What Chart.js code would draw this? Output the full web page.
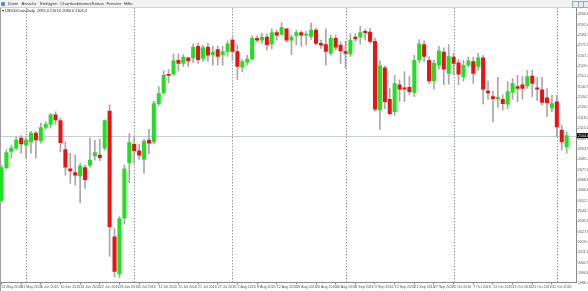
<!DOCTYPE html>
<html>
<head>
<meta charset="utf-8">
<script src="https://cdn.jsdelivr.net/npm/chart.js@4.4.1/dist/chart.umd.min.js"></script>
<style>
html, body { margin: 0; padding: 0; background: #fff; overflow: hidden; }
#wrap { position: relative; width: 588px; height: 291px; font-family: "Liberation Sans", Arial, sans-serif; }
canvas { position: absolute; left: 0; top: 0; }
#menu { position: absolute; left: 0; top: 0; width: 588px; height: 7px; background: #f2f2f2; border-bottom: 1px solid #d2d2d2; font-size: 4.4px; line-height: 7px; color: #333; }
#menu span { position: absolute; top: 0; }
#icon { position: absolute; left: 1px; top: 1.5px; width: 4px; height: 4px; background: #5a8fd0; border-radius: 1px; }
.btn { position: absolute; top: 1px; width: 4.5px; height: 4.5px; border: 0.5px solid #9aa; background: #e9ecef; }
#title { position: absolute; left: 2px; top: 8.5px; font-size: 3.8px; line-height: 4px; color: #222; white-space: pre; }
</style>
</head>
<body>
<div id="wrap">
  <canvas id="chart" width="588" height="291"></canvas>
  <div id="menu">
    <div id="icon"></div>
    <span style="left:8px">Datei</span>
    <span style="left:21.5px">Ansicht</span>
    <span style="left:40px">Einfügen</span>
    <span style="left:60px">Chartfunktionen</span>
    <span style="left:91.5px">Extras</span>
    <span style="left:106.5px">Fenster</span>
    <span style="left:124px">Hilfe</span>
    <div class="btn" style="left:572px"></div>
    <div class="btn" style="left:577.5px"></div>
    <div class="btn" style="left:583px"></div>
  </div>
  <div id="title"></div>
</div>
<script>
// daily bars, US500 CFD, 24 May - 3 Nov 2016
var dates = [
  "24 May 2016","25 May 2016","26 May 2016","27 May 2016","31 May 2016",
  "1 Jun 2016","2 Jun 2016","3 Jun 2016","6 Jun 2016","7 Jun 2016","8 Jun 2016","9 Jun 2016","10 Jun 2016",
  "13 Jun 2016","14 Jun 2016","15 Jun 2016","16 Jun 2016","17 Jun 2016","20 Jun 2016","21 Jun 2016","22 Jun 2016",
  "23 Jun 2016","24 Jun 2016","27 Jun 2016","28 Jun 2016","29 Jun 2016","30 Jun 2016",
  "1 Jul 2016","5 Jul 2016","6 Jul 2016","7 Jul 2016","8 Jul 2016","11 Jul 2016","12 Jul 2016","13 Jul 2016",
  "14 Jul 2016","15 Jul 2016","18 Jul 2016","19 Jul 2016","20 Jul 2016","21 Jul 2016","22 Jul 2016","25 Jul 2016",
  "26 Jul 2016","27 Jul 2016","28 Jul 2016","29 Jul 2016",
  "1 Aug 2016","2 Aug 2016","3 Aug 2016","4 Aug 2016","5 Aug 2016","8 Aug 2016","9 Aug 2016","10 Aug 2016",
  "11 Aug 2016","12 Aug 2016","15 Aug 2016","16 Aug 2016","17 Aug 2016","18 Aug 2016","19 Aug 2016","22 Aug 2016",
  "23 Aug 2016","24 Aug 2016","25 Aug 2016","26 Aug 2016","29 Aug 2016","30 Aug 2016","31 Aug 2016",
  "1 Sep 2016","2 Sep 2016","5 Sep 2016","6 Sep 2016","7 Sep 2016","8 Sep 2016","9 Sep 2016","12 Sep 2016",
  "13 Sep 2016","14 Sep 2016","15 Sep 2016","16 Sep 2016","19 Sep 2016","20 Sep 2016","21 Sep 2016","22 Sep 2016",
  "23 Sep 2016","26 Sep 2016","27 Sep 2016","28 Sep 2016","29 Sep 2016","30 Sep 2016",
  "3 Oct 2016","4 Oct 2016","5 Oct 2016","6 Oct 2016","7 Oct 2016","10 Oct 2016","11 Oct 2016","12 Oct 2016",
  "13 Oct 2016","14 Oct 2016","17 Oct 2016","18 Oct 2016","19 Oct 2016","20 Oct 2016","21 Oct 2016","24 Oct 2016",
  "25 Oct 2016","26 Oct 2016","27 Oct 2016","28 Oct 2016","31 Oct 2016",
  "1 Nov 2016","2 Nov 2016","3 Nov 2016"
];

var open = [
  2052.5,2078.5,2091.5,2094.0,2102.0, 2096.5,2099.0,2106.0,2100.0,2110.5,2113.0,2120.5,2116.0,
  2093.0,2077.5,2074.5,2072.0,2078.5,2080.5,2088.0,2088.5, 2094.0,2123.5,2023.5,1994.0,2038.5,2082.5,
  2097.0,2092.0,2085.0,2100.5,2099.0,2129.5,2138.0,2152.5, 2153.0,2164.0,2161.5,2166.0,2166.0,2175.0,2165.5,2174.5,
  2168.5,2172.5,2168.5,2171.0,
  2180.0,2171.0,2158.5,2162.5,2165.0,2181.5,2180.0,2182.5, 2177.0,2186.0,2184.5,2189.0,2180.0,2183.5,2186.0,2184.0,
  2183.0,2188.0,2177.5,2176.5,2169.5,2181.5,2176.0,
  2171.0,2169.0,2182.5,2182.5,2187.0,2186.5,2179.0,2124.5, 2158.0,2133.0,2123.0,2144.5,2142.0,2142.5,2138.5,2164.5,
  2176.5,2164.0,2147.5,2160.0,2170.5,2153.5,
  2166.5,2162.0,2151.0,2160.0,2163.0,2159.0,2166.0,2139.5, 2135.0,2133.5,2133.0,2129.0,2138.5,2143.0,2144.5,2143.5,
  2151.5,2142.0,2140.5,2134.0,2126.0,
  2131.0,2108.5,2095.0
];
var high = [
  2080.5,2093.0,2096.5,2103.0,2104.0, 2103.0,2107.5,2107.5,2114.0,2115.0,2121.5,2123.0,2118.0,
  2099.0,2090.0,2088.5,2082.0,2080.5,2102.0,2100.5,2101.0, 2116.5,2128.5,2030.0,2039.5,2080.5,2105.5,
  2103.0,2097.0,2101.0,2109.0,2131.5,2143.0,2155.5,2156.5, 2169.0,2169.0,2168.5,2166.5,2177.0,2177.5,2176.0,2177.5,
  2175.0,2175.5,2175.0,2179.5,
  2182.5,2176.0,2164.5,2168.0,2183.5,2183.5,2185.5,2185.0, 2189.0,2188.0,2194.0,2189.5,2184.0,2188.0,2187.5,2187.0,
  2193.5,2189.5,2180.0,2189.0,2184.0,2184.0,2178.5,
  2179.0,2185.0,2185.0,2191.0,2188.5,2189.5,2181.5,2163.5, 2159.5,2141.5,2152.0,2148.5,2155.0,2151.5,2168.0,2180.5,
  2179.5,2167.0,2164.0,2175.0,2174.0,2176.5,
  2169.5,2164.5,2164.0,2166.5,2166.5,2169.5,2168.0,2147.5, 2139.5,2150.5,2136.5,2147.0,2149.5,2152.0,2151.0,2156.0,
  2156.0,2150.5,2150.5,2141.5,2136.0,
  2136.0,2112.5,2107.0
];
var low = [
  2051.5,2077.5,2086.0,2092.5,2090.0, 2086.0,2090.0,2086.0,2098.0,2109.0,2110.0,2113.0,2091.0,
  2072.5,2066.0,2064.5,2050.5,2062.0,2079.0,2084.5,2084.0, 2092.5,2008.0,1991.5,1991.0,2033.5,2066.5,
  2082.0,2085.0,2074.0,2089.5,2097.5,2128.0,2137.5,2146.0, 2152.0,2155.5,2159.0,2159.0,2162.0,2161.5,2163.0,2163.0,
  2160.0,2160.0,2160.0,2167.0,
  2164.0,2148.5,2155.0,2160.0,2164.0,2178.5,2177.5,2172.0, 2173.0,2180.0,2184.0,2178.5,2168.5,2176.5,2175.0,2176.0,
  2180.5,2176.0,2173.5,2160.0,2168.0,2172.0,2161.5,
  2157.5,2167.0,2179.0,2177.0,2180.0,2177.5,2123.5,2109.0, 2125.5,2120.5,2120.0,2131.0,2131.0,2136.5,2135.0,2162.0,
  2163.0,2145.5,2141.0,2157.0,2144.5,2145.0,
  2152.5,2144.5,2147.5,2158.5,2145.5,2156.0,2129.0,2133.0, 2115.0,2126.5,2124.5,2125.5,2133.0,2131.0,2133.0,2141.5,
  2135.0,2132.0,2128.5,2119.0,2123.0,
  2103.0,2092.5,2090.0
];
var close = [
  2078.5,2090.5,2094.0,2100.5,2097.5, 2100.5,2106.0,2100.5,2110.5,2113.0,2120.5,2116.5,2098.5,
  2079.0,2076.0,2072.5,2080.0,2069.0,2084.5,2090.5,2086.5, 2116.0,2031.5,1996.0,2038.0,2077.5,2098.5,
  2092.0,2088.5,2099.5,2098.0,2129.5,2137.5,2152.0,2152.0, 2163.5,2161.5,2166.5,2163.5,2174.5,2164.5,2174.0,2168.0,
  2170.5,2167.0,2171.0,2177.0,
  2171.0,2159.0,2163.0,2165.0,2181.5,2180.0,2182.5,2176.5, 2186.0,2184.0,2190.0,2180.0,2182.5,2186.0,2184.0,2184.5,
  2188.0,2177.5,2176.0,2171.0,2181.5,2174.5,2171.5,
  2169.5,2180.0,2181.0,2186.0,2186.0,2179.0,2125.0,2159.5, 2131.0,2121.5,2145.5,2141.0,2141.0,2139.0,2164.0,2177.0,
  2167.0,2147.5,2161.5,2171.5,2157.0,2167.0,
  2161.5,2153.0,2160.0,2163.5,2153.5,2166.0,2141.0,2138.0, 2133.5,2134.5,2129.5,2139.0,2145.5,2141.5,2141.5,2151.0,
  2145.5,2141.0,2130.5,2130.0,2129.5,
  2111.0,2099.0,2104.0
];

// price axis labels (right side)
var priceTicks = [1986.4,1994.6,2002.9,2011.1,2019.4,2027.6,2035.8,2044.1,2052.3,2060.6,2068.8,2077.0,2085.3,
  2093.5,2101.7,2110.0,2118.2,2126.5,2134.7,2142.9,2151.2,2159.4,2167.7,2175.9,2184.1,2192.4,2200.6];
var dateLabelStep = 4;

var bullColor = '#1fe21f';
var bearColor = '#e81414';
var wickColor = '#a8a8a8';

var n = close.length;
var last = n - 1;
document.getElementById('title').textContent =
  '\u25BE US500Cash,Daily  ' + open[last].toFixed(1) + ' ' + high[last].toFixed(1) + ' ' +
  low[last].toFixed(1) + ' ' + close[last].toFixed(1);

var bodies = [], wicks = [], bodyColors = [];
for (var i = 0; i < n; i++) {
  bodies.push({ x: i, y: [open[i], close[i]] });
  wicks.push({ x: i, y: [low[i], high[i]] });
  bodyColors.push(close[i] >= open[i] ? bullColor : bearColor);
}
var dateTicks = [];
for (var k = 0; k < n; k += dateLabelStep) dateTicks.push(k);

// first bar of each month gets a dotted separator
var monthStarts = [];
for (var j = 1; j < n; j++) {
  if (dates[j].split(' ')[1] !== dates[j - 1].split(' ')[1]) monthStarts.push(j);
}

var tinyFont = { family: 'Liberation Sans', size: 3.6 };

function noPad(s) { s.paddingLeft = 0; s.paddingRight = 0; s.paddingTop = 0; s.paddingBottom = 0; }

var overlay = {
  id: 'overlay',
  beforeDatasetsDraw: function(chart) {
    var ctx = chart.ctx, a = chart.chartArea, xs = chart.scales.x, ys = chart.scales.y;
    ctx.save();
    ctx.strokeStyle = '#9c9c9c';
    ctx.lineWidth = 1;
    ctx.setLineDash([1.5, 1.5]);
    monthStarts.forEach(function(m) {
      var px = Math.round(xs.getPixelForValue(m)) + 0.5;
      ctx.beginPath(); ctx.moveTo(px, a.top); ctx.lineTo(px, a.bottom); ctx.stroke();
    });
    ctx.setLineDash([]);
    var py = Math.round(ys.getPixelForValue(close[last])) + 0.5;
    ctx.strokeStyle = '#c6ced8';
    ctx.beginPath(); ctx.moveTo(a.left, py); ctx.lineTo(a.right, py); ctx.stroke();
    ctx.strokeStyle = '#a0a0a0';
    ctx.beginPath(); ctx.moveTo(0.5, a.top); ctx.lineTo(0.5, chart.height); ctx.stroke();
    ctx.restore();
  },
  afterDraw: function(chart) {
    var ctx = chart.ctx, a = chart.chartArea, ys = chart.scales.y;
    var py = ys.getPixelForValue(close[last]);
    ctx.save();
    ctx.fillStyle = '#000';
    ctx.fillRect(a.right + 1, py - 2.5, chart.width - a.right - 1, 5);
    ctx.fillStyle = '#fff';
    ctx.font = '3.6px "Liberation Sans"';
    ctx.textBaseline = 'middle';
    ctx.fillText(close[last].toFixed(1), a.right + 2, py);
    ctx.restore();
  }
};

new Chart(document.getElementById('chart'), {
  type: 'bar',
  data: {
    datasets: [{
      data: bodies,
      backgroundColor: bodyColors,
      barThickness: 3.4,
      minBarLength: 1,
      grouped: false
    }, {
      data: wicks,
      backgroundColor: wickColor,
      barThickness: 1,
      grouped: false
    }]
  },
  options: {
    responsive: false,
    animation: false,
    devicePixelRatio: 1,
    layout: { autoPadding: false, padding: { top: 8, left: 0, right: 0, bottom: 0 } },
    plugins: { legend: { display: false }, tooltip: { enabled: false } },
    scales: {
      x: {
        type: 'linear',
        offset: false,
        min: -0.305,
        max: 116.9,
        afterBuildTicks: function(s) { s.ticks = dateTicks.map(function(v) { return { value: v }; }); },
        afterFit: function(s) { s.height = 8.5; noPad(s); },
        ticks: {
          autoSkip: false, maxRotation: 0, minRotation: 0, align: 'start',
          font: tinyFont, color: '#555', padding: 0.5,
          callback: function(v) { return dates[v]; }
        },
        grid: { drawOnChartArea: false, offset: false, tickLength: 2, color: '#8a8a8a' },
        border: { color: '#8a8a8a' }
      },
      y: {
        position: 'right',
        min: 1987.1,
        max: 2205.6,
        afterBuildTicks: function(s) { s.ticks = priceTicks.map(function(v) { return { value: v }; }); },
        afterFit: function(s) { s.width = 12; noPad(s); },
        ticks: {
          autoSkip: false, font: tinyFont, color: '#555', padding: 0.5,
          callback: function(v) { return v.toFixed(1); }
        },
        grid: { drawOnChartArea: false, tickLength: 1.5, color: '#8a8a8a' },
        border: { color: '#8a8a8a' }
      }
    }
  },
  plugins: [overlay]
});
</script>
</body>
</html>
